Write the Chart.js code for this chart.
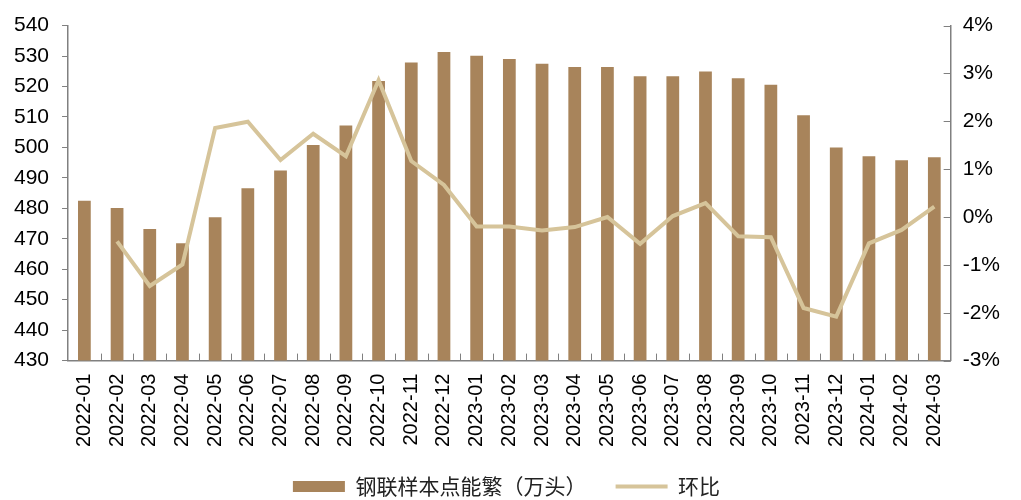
<!DOCTYPE html>
<html>
<head>
<meta charset="utf-8">
<script src="https://cdn.jsdelivr.net/npm/chart.js@4.4.1/dist/chart.umd.min.js"></script>
<style>
  html, body { margin: 0; padding: 0; background: #fff; }
  #wrap { width: 1021px; height: 500px; }
</style>
</head>
<body>
<div id="wrap"><canvas id="myChart"></canvas></div>
<script>
const months = [
    '2022-01', '2022-02', '2022-03', '2022-04', '2022-05', '2022-06', '2022-07', '2022-08', '2022-09',
    '2022-10', '2022-11', '2022-12', '2023-01', '2023-02', '2023-03', '2023-04', '2023-05', '2023-06',
    '2023-07', '2023-08', '2023-09', '2023-10', '2023-11', '2023-12', '2024-01', '2024-02', '2024-03'
];

// 钢联样本点能繁（万头）
const sows = [
    482.5, 480.1, 473.2, 468.5, 477.1, 486.6, 492.4, 500.8, 507.2,
    521.8, 527.9, 531.3, 530.1, 529.0, 527.5, 526.4, 526.4, 523.4,
    523.4, 524.9, 522.7, 520.6, 510.6, 500.0, 497.1, 495.8, 496.8
];

// 环比 (%)
const mom = [
    null, -0.51, -1.44, -0.99, 1.86, 1.99, 1.19, 1.74, 1.27,
    2.86, 1.17, 0.67, -0.20, -0.20, -0.28, -0.21, 0.00, -0.56,
    0.02, 0.29, -0.40, -0.42, -1.90, -2.08, -0.55, -0.27, 0.22
];

const barColor = '#a8845b';
const lineColor = '#d6c49a';
const axisColor = '#808080';
const yFont = { family: '"Liberation Sans", Arial, sans-serif', size: 21 };
const xFont = { family: '"Liberation Sans", Arial, sans-serif', size: 20 };

const ctx = document.getElementById('myChart');

// inward tick marks on the right axis and the category axis
const innerTicks = {
    id: 'innerTicks',
    afterDraw: (chart) => {
        const { ctx } = chart;
        const x = chart.scales.x;
        const y1 = chart.scales.y1;
        ctx.save();
        ctx.strokeStyle = axisColor;
        ctx.lineWidth = 1;
        ctx.beginPath();
        y1.ticks.forEach((t, i) => {
            const py = Math.round(y1.getPixelForTick(i)) + 0.5;
            ctx.moveTo(y1.left - 7, py);
            ctx.lineTo(y1.left, py);
        });
        for (let i = 0; i < months.length - 1; i++) {
            const px = Math.round((x.getPixelForTick(i) + x.getPixelForTick(i + 1)) / 2) + 0.5;
            ctx.moveTo(px, x.top);
            ctx.lineTo(px, x.top - 7);
        }
        ctx.stroke();
        ctx.restore();
    }
};

new Chart(ctx, {
    data: {
        labels: months,
        datasets: [
            {
                type: 'line',
                label: '环比',
                data: mom,
                yAxisID: 'y1',
                borderColor: lineColor,
                backgroundColor: lineColor,
                borderWidth: 4,
                pointRadius: 0,
                pointStyle: 'line',
                tension: 0,
                order: 0
            },
            {
                type: 'bar',
                label: '钢联样本点能繁（万头）\u3000\u2002\u2009',
                data: sows,
                yAxisID: 'y',
                backgroundColor: barColor,
                pointStyle: 'rect',
                barPercentage: 0.39,
                categoryPercentage: 1,
                order: 1
            }
        ]
    },
    options: {
        responsive: true,
        maintainAspectRatio: false,
        animation: false,
        layout: { padding: { left: 1, right: 9, top: 5, bottom: -7 } },
        plugins: {
            tooltip: { enabled: false },
            legend: {
                position: 'bottom',
                reverse: true,
                labels: {
                    usePointStyle: true,
                    pointStyleWidth: 52,
                    boxHeight: 11,
                    padding: 4,
                    color: '#222',
                    font: { family: '"Noto Sans CJK SC", sans-serif', size: 21 }
                }
            }
        },
        scales: {
            x: {
                offset: true,
                grid: { display: false, drawTicks: false },
                border: { display: true, color: axisColor, width: 1.5 },
                ticks: {
                    color: '#000',
                    font: xFont,
                    minRotation: 90,
                    maxRotation: 90,
                    autoSkip: false,
                    padding: 13
                },
                afterFit: (scale) => { scale.height += 12; }
            },
            y: {
                position: 'left',
                min: 430,
                max: 540,
                grid: { display: true, drawOnChartArea: false, tickLength: 6, color: axisColor },
                border: { display: true, color: axisColor, width: 1.5 },
                ticks: { stepSize: 10, color: '#000', font: yFont, padding: 13 }
            },
            y1: {
                position: 'right',
                min: -3,
                max: 4,
                grid: { display: false, drawTicks: false },
                border: { display: true, color: axisColor, width: 1.5 },
                ticks: {
                    stepSize: 1,
                    color: '#000',
                    font: yFont,
                    padding: 12,
                    callback: (v) => v + '%'
                }
            }
        }
    },
    plugins: [innerTicks]
});
</script>
</body>
</html>
